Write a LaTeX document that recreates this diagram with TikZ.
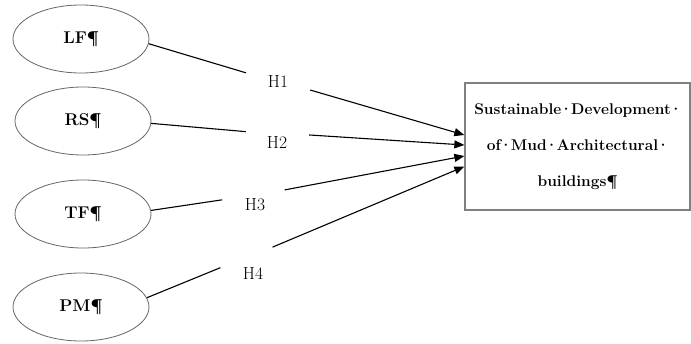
\documentclass[tikz,border=0pt]{standalone}
\usepackage{tikz}
\usetikzlibrary{arrows.meta,shapes.geometric}

\newcommand{\md}{\kern-0.12em·\kern-0.12em}

\tikzset{
  factor/.style={ellipse, draw=black!60, line width=0.8pt, minimum width=136pt, minimum height=68pt, inner sep=0pt, font=\fontsize{17}{20}\selectfont\bfseries},
  hyp/.style={circle, minimum size=66pt, inner sep=0pt, font=\fontsize{17.5}{20}\selectfont},
  link/.style={black, line width=1.1pt},
  goal/.style={draw=black!50, line width=1.3pt, minimum width=225pt, minimum height=127pt, align=center, font=\fontsize{15.5}{36}\selectfont\bfseries}
}

\begin{document}
\begin{tikzpicture}[x=1pt,y=-1pt]

\useasboundingbox (0,0) rectangle (691,343);

% factors
\node[factor] (lf) at (81,39) {LF¶};
\node[factor] (rs) at (83,121) {RS¶};
\node[factor] (tf) at (83,214) {TF¶};
\node[factor] (pm) at (81,307) {PM¶};

% hypotheses
\node[hyp] (h1) at (278,82) {H1};
\node[hyp] (h2) at (277,143) {H2};
\node[hyp] (h3) at (255,205) {H3};
\node[hyp] (h4) at (253,274) {H4};

\node[goal] (sdma) at (577.5,146.5) {Sustainable\md Development\md\\of\md Mud\md Architectural\md\\buildings¶};

\draw[link] (lf.-4) -- (h1.164);
\draw[link] (rs.-2) -- (h2.160);
\draw[link] (tf.3) -- (h3.171);
\draw[link] (pm.8) -- (h4.169);

\draw[link,-{Triangle[length=10pt,width=8pt]}] (h1.-14) -- ([yshift=11.5pt]sdma.west);
\draw[link,-{Triangle[length=10pt,width=8pt]}] (h2.14) -- ([yshift=1.5pt]sdma.west);
\draw[link,-{Triangle[length=10pt,width=8pt]}] (h3.27) -- ([yshift=-9.5pt]sdma.west);
\draw[link,-{Triangle[length=10pt,width=8pt]}] (h4.54) -- ([yshift=-20pt]sdma.west);

\end{tikzpicture}
\end{document}
